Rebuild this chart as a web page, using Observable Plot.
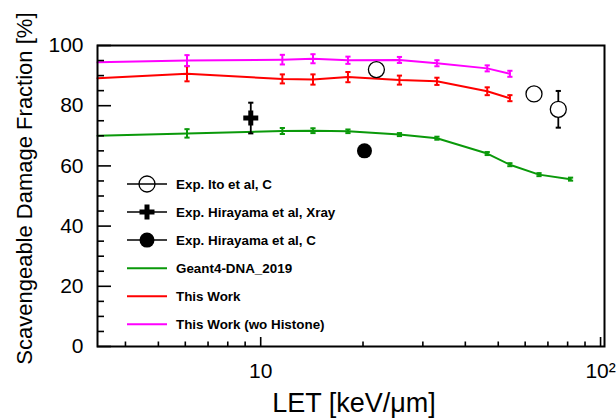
<!DOCTYPE html>
<html>
<head>
<meta charset="utf-8">
<script src="https://cdn.jsdelivr.net/npm/d3@7"></script>
<script src="https://cdn.jsdelivr.net/npm/@observablehq/plot@0.6"></script>
<style>
  html, body { margin: 0; padding: 0; background: white; }
  #chart { width: 616px; height: 418px; }
</style>
</head>
<body>
<div id="chart"></div>
<script>
// ---------------- data ----------------
const letSim = [3.31, 6.07, 11.58, 14.25, 18.06, 25.6, 33.0, 46.4, 54.1];
const letG4  = [3.31, 6.07, 11.58, 14.25, 18.06, 25.6, 33.0, 46.4, 54.1, 65.9, 81.6];

const g4Values  = [70.0, 70.8, 71.6, 71.7, 71.5, 70.4, 69.2, 64.1, 60.4, 57.1, 55.6];
const g4Errors  = [0, 1.4, 1.0, 0.8, 0.6, 0.5, 0.5, 0.5, 0.5, 0.5, 0.5];

const workValues = [89.1, 90.6, 88.9, 88.7, 89.5, 88.5, 88.1, 84.8, 82.5];
const workErrors = [0, 2.5, 1.5, 1.7, 1.7, 1.5, 1.2, 1.3, 1.0];

const woHistoneValues = [94.4, 95.0, 95.3, 95.6, 95.1, 95.2, 94.1, 92.4, 90.6];
const woHistoneErrors = [0, 1.8, 1.6, 1.5, 1.2, 1.0, 1.0, 1.0, 1.0];

const itoLET    = [21.9, 63.7, 75.1];
const itoValues = [92.0, 83.9, 78.8];
const itoErrors = [0, 0, 6.1];

const hiraXrayLET    = [9.35];
const hiraXrayValues = [75.9];
const hiraXrayErrors = [5.1];

const hiraCLET    = [20.2];
const hiraCValues = [65.0];

const xMajorTicks = [10, 100];
const xTickLabels = ["10", "10²"];
const xMinorTicks = [4, 5, 6, 7, 8, 9, 20, 30, 40, 50, 60, 70, 80, 90];
const yMajorTicks = [0, 20, 40, 60, 80, 100];
const yTickLabels = ["0", "20", "40", "60", "80", "100"];
const yMinorTicks = [5, 10, 15, 25, 30, 35, 45, 50, 55, 65, 70, 75, 85, 90, 95];

const xTitle = "LET [keV/\u03bcm]";
const yTitle = "Scavengeable Damage Fraction [%]";

const legendLabels = [
  "Exp. Ito et al, C",
  "Exp. Hirayama et al, Xray",
  "Exp. Hirayama et al, C",
  "Geant4-DNA_2019",
  "This Work",
  "This Work (wo Histone)"
];

const colG4 = "#0a990a";
const colWork = "#ff0000";
const colWo = "#ff00ff";

// ---------------- build ----------------
function rows(lets, vals, errs) {
  return lets.map((x, i) => ({x, y: vals[i], e: errs ? errs[i] : 0}));
}
const g4Rows = rows(letG4, g4Values, g4Errors);
const workRows = rows(letSim, workValues, workErrors);
const woRows = rows(letSim, woHistoneValues, woHistoneErrors);
const itoRows = rows(itoLET, itoValues, itoErrors);
const xrayRows = rows(hiraXrayLET, hiraXrayValues, hiraXrayErrors);
const hcRows = rows(hiraCLET, hiraCValues, null);

const capSymbol = {
  draw(context, size) {
    const r = Math.sqrt(size / Math.PI);
    context.moveTo(-r, 0);
    context.lineTo(r, 0);
  }
};

const W = 616, H = 418;
const mT = 45, mR = 12, mB = 72, mL = 97;
const plotW = W - mL - mR, plotH = H - mT - mB;
const font = "'Liberation Sans', Arial, Helvetica, sans-serif";

function errorMarks(data, color, sw) {
  const d = data.filter(r => r.e > 0);
  return [
    Plot.ruleX(d, {x: "x", y1: r => r.y - r.e, y2: r => r.y + r.e, stroke: color, strokeWidth: sw}),
    Plot.dot(d, {x: "x", y: r => r.y - r.e, symbol: capSymbol, r: 2.6, stroke: color, strokeWidth: 2, fill: "none"}),
    Plot.dot(d, {x: "x", y: r => r.y + r.e, symbol: capSymbol, r: 2.6, stroke: color, strokeWidth: 2, fill: "none"})
  ];
}

const chart = Plot.plot({
  width: W,
  height: H,
  marginTop: mT,
  marginRight: mR,
  marginBottom: mB,
  marginLeft: mL,
  style: {fontFamily: font, background: "white", overflow: "visible", color: "black"},
  x: {type: "log", domain: [3.31, 102.7], label: null},
  y: {domain: [0, 100], label: null},
  marks: [
    // series lines
    Plot.line(g4Rows, {x: "x", y: "y", stroke: colG4, strokeWidth: 2}),
    ...errorMarks(g4Rows, colG4, 2),
    Plot.line(workRows, {x: "x", y: "y", stroke: colWork, strokeWidth: 2}),
    ...errorMarks(workRows, colWork, 2),
    Plot.line(woRows, {x: "x", y: "y", stroke: colWo, strokeWidth: 2}),
    ...errorMarks(woRows, colWo, 2),
    // experiments
    ...errorMarks(itoRows, "black", 1.8),
    Plot.dot(itoRows, {x: "x", y: "y", r: 8, stroke: "black", strokeWidth: 1.3, fill: "white"}),
    ...errorMarks(xrayRows, "black", 1.8),
    Plot.dot(xrayRows, {x: "x", y: "y", symbol: "cross", r: 6.3, fill: "black", stroke: "none"}),
    Plot.dot(hcRows, {x: "x", y: "y", r: 7.5, fill: "black", stroke: "none"}),
    // inward ticks
    Plot.tickY(yMajorTicks, {y: d => d, insetRight: plotW - 14, stroke: "black", strokeWidth: 1.6}),
    Plot.tickY(yMinorTicks, {y: d => d, insetRight: plotW - 7, stroke: "black", strokeWidth: 1.6}),
    Plot.tickX(xMajorTicks, {x: d => d, insetTop: plotH - 9, stroke: "black", strokeWidth: 1.6}),
    Plot.tickX(xMinorTicks, {x: d => d, insetTop: plotH - 4.5, stroke: "black", strokeWidth: 1.6}),
    Plot.frame({stroke: "black", strokeWidth: 2}),
    // axes labels
    Plot.axisY(yMajorTicks, {anchor: "left", tickSize: 0, tickPadding: 14, fontSize: 21,
      tickFormat: d => yTickLabels[yMajorTicks.indexOf(d)], label: null}),
    Plot.axisX(xMajorTicks, {anchor: "bottom", tickSize: 0, tickPadding: 17, fontSize: 21,
      tickFormat: d => xTickLabels[xMajorTicks.indexOf(d)], label: null}),
    // axis titles
    Plot.text([xTitle], {text: d => d, frameAnchor: "bottom", dy: 57, dx: 3, fontSize: 27,
      lineAnchor: "middle", textAnchor: "middle", fill: "black"}),
    Plot.text([yTitle], {text: d => d, frameAnchor: "top-left", rotate: -90, dx: -73, dy: -33,
      textAnchor: "end", lineAnchor: "middle", fontSize: 22, fill: "black"})
  ]
});

document.getElementById("chart").appendChild(chart);

// ---------------- legend ----------------
const svg = d3.select(chart);
const lg = svg.append("g")
  .attr("font-family", font)
  .attr("font-weight", "bold")
  .attr("font-size", 13.4)
  .attr("text-anchor", "start");
const legendStyles = [
  {color: "black", width: 1.5, marker: "open"},
  {color: "black", width: 1.5, marker: "cross"},
  {color: "black", width: 1.5, marker: "filled"},
  {color: colG4, width: 2, marker: null},
  {color: colWork, width: 2, marker: null},
  {color: colWo, width: 2, marker: null}
];
legendLabels.forEach((label, i) => {
  const st = legendStyles[i];
  const cy = 184 + i * 28.05;
  const g = lg.append("g").attr("transform", `translate(0,${cy})`);
  g.append("line").attr("x1", 127).attr("x2", 167).attr("y1", 0).attr("y2", 0)
    .attr("stroke", st.color).attr("stroke-width", st.width);
  if (st.marker === "open") {
    g.append("circle").attr("cx", 147).attr("cy", 0).attr("r", 8)
      .attr("fill", "none").attr("stroke", "black").attr("stroke-width", 1.3);
  } else if (st.marker === "filled") {
    g.append("circle").attr("cx", 147).attr("cy", 0).attr("r", 7.5).attr("fill", "black");
  } else if (st.marker === "cross") {
    g.append("path").attr("transform", "translate(147,0)")
      .attr("d", d3.symbol(d3.symbolCross, Math.PI * 6.3 * 6.3)()).attr("fill", "black");
  }
  g.append("text").attr("x", 176).attr("y", 0).attr("dy", "0.35em")
    .attr("text-anchor", "start")
    .attr("fill", "black").text(label);
});
</script>
</body>
</html>
